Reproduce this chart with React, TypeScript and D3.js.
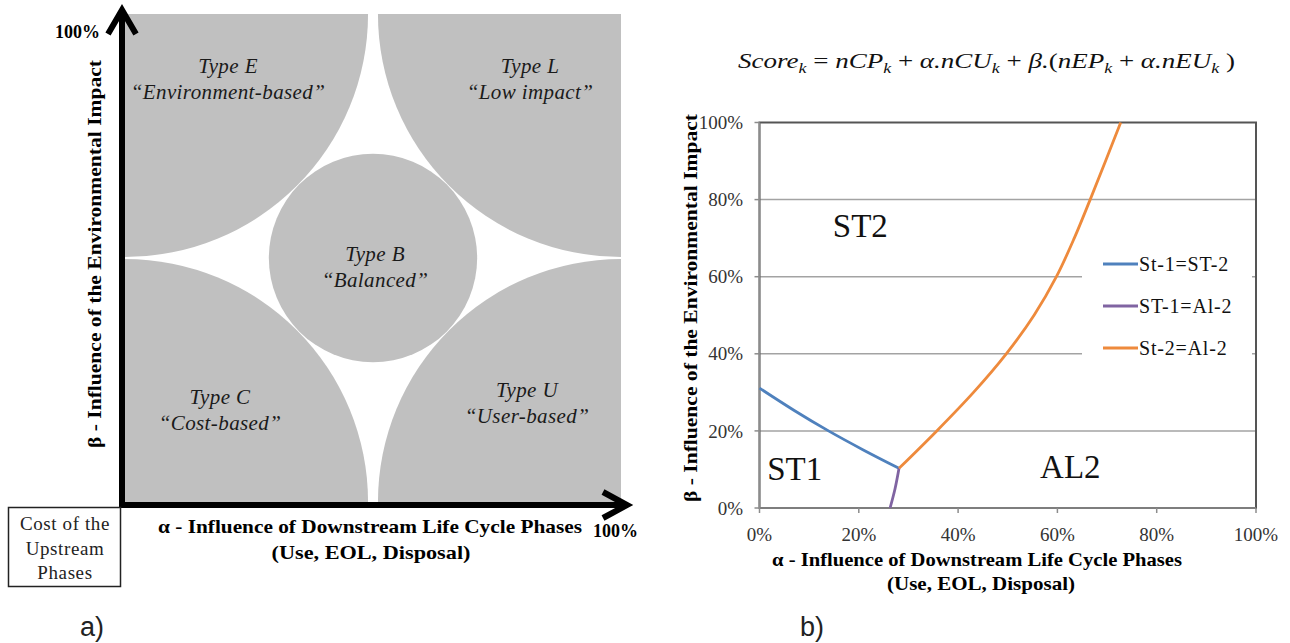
import * as d3 from "d3";
import * as React from "react";

// ---- panel a) archetypes on the (alpha, beta) square ----
const typeNames = ["Type E", "Type L", "Type B", "Type C", "Type U"];
const typeDescriptions = ["“Environment-based”", "“Low impact”", "“Balanced”", "“Cost-based”", "“User-based”"];
// corner (or centre) each region grows from, in alpha / beta units
const typeAlpha = [0, 1, 0.5, 0, 1];
const typeBeta = [1, 1, 0.5, 0, 0];
const cornerRadius = 0.49;
const centerRadius = 0.21;

// ---- panel b) frontier lines ----
const tickValues = [0, 0.2, 0.4, 0.6, 0.8, 1];
const seriesNames = ["St-1=ST-2", "ST-1=Al-2", "St-2=Al-2"];
const st1st2Alpha = [0, 0.07, 0.139, 0.21, 0.281];
const st1st2Beta = [0.311, 0.253, 0.2, 0.15, 0.103];
const st1al2Alpha = [0.263, 0.273, 0.281];
const st1al2Beta = [0, 0.05, 0.103];
const st2al2Alpha = [0.281, 0.357, 0.431, 0.497, 0.553, 0.598, 0.634, 0.666, 0.697, 0.7275];
const st2al2Beta = [0.103, 0.2, 0.3, 0.4, 0.5, 0.6, 0.7, 0.8, 0.9, 1];
const regionNames = ["ST2", "ST1", "AL2"];

const serif = "'Liberation Serif', 'Times New Roman', serif";
const seriesColors = ["#4f81bd", "#8064a2", "#ee8a3c"];

// label placement (layout, not data)
const typeLabelPos = [
  [228, 73], [530, 73], [375, 261], [220, 404], [527, 397],
];
const regionLabelPos = [
  [0.203, 0.703], [0.071, 0.073], [0.626, 0.078],
];

function PanelA() {
  const x = d3.scaleLinear().domain([0, 1]).range([125, 621]);
  const y = d3.scaleLinear().domain([0, 1]).range([502, 14]);
  const side = x(1) - x(0);

  const shapes = typeNames.map((name, i) => {
    const cx = x(typeAlpha[i]);
    const cy = y(typeBeta[i]);
    if (typeAlpha[i] === 0.5) {
      return <circle key={name} cx={cx} cy={cy} r={centerRadius * side} fill="#c0c0c0" />;
    }
    const sx = typeAlpha[i] === 0 ? 1 : -1;
    const sy = typeBeta[i] === 1 ? 1 : -1;
    const a0 = sx > 0 ? 0 : Math.PI;
    let diff = (sy > 0 ? Math.PI / 2 : -Math.PI / 2) - a0;
    if (diff > Math.PI) diff -= 2 * Math.PI;
    if (diff < -Math.PI) diff += 2 * Math.PI;
    const p = d3.path();
    p.moveTo(cx, cy);
    p.arc(cx, cy, cornerRadius * side, a0, a0 + diff, diff < 0);
    p.closePath();
    return <path key={name} d={p.toString()} fill="#c0c0c0" />;
  });

  const ax = 122, ay = 505;
  return (
    <g>
      {shapes}
      {typeNames.map((name, i) => (
        <text key={name} x={typeLabelPos[i][0]} y={typeLabelPos[i][1]} textAnchor="middle"
          fontFamily={serif} fontStyle="italic" fontSize={21} letterSpacing={0.4} fill="#1a1a1a">
          <tspan x={typeLabelPos[i][0]}>{name}</tspan>
          <tspan x={typeLabelPos[i][0]} dy={26}>{typeDescriptions[i]}</tspan>
        </text>
      ))}
      {/* axes with arrows */}
      <g stroke="#000" strokeWidth={6} fill="none" strokeLinecap="butt" strokeLinejoin="miter">
        <line x1={ax} y1={ay + 3} x2={ax} y2={11} />
        <polyline points={`${ax - 14},34 ${ax},10 ${ax + 14},34`} />
        <line x1={ax - 3} y1={ay} x2={626} y2={ay} />
        <polyline points={`603,492 627,${ay} 603,518`} />
      </g>
      <text x={100} y={38} textAnchor="end" fontFamily={serif} fontWeight="bold" fontSize={18}>100%</text>
      <text x={593} y={537} fontFamily={serif} fontWeight="bold" fontSize={18}>100%</text>
      <text transform={`translate(101,254) rotate(-90)`} textAnchor="middle" fontFamily={serif}
        fontWeight="bold" fontSize={19} textLength={388} lengthAdjust="spacingAndGlyphs">
        β - Influence of the Environmental Impact
      </text>
      <text x={370} y={533} textAnchor="middle" fontFamily={serif} fontWeight="bold" fontSize={19}
        textLength={424} lengthAdjust="spacingAndGlyphs">
        α - Influence of Downstream Life Cycle Phases
      </text>
      <text x={371} y={559} textAnchor="middle" fontFamily={serif} fontWeight="bold" fontSize={19}
        textLength={199} lengthAdjust="spacingAndGlyphs">
        (Use, EOL, Disposal)
      </text>
      <rect x={8.5} y={507.5} width={112} height={79} fill="#fff" stroke="#222" strokeWidth={1.5} />
      {["Cost of the", "Upstream", "Phases"].map((t, i) => (
        <text key={t} x={65} y={530 + i * 24.5} textAnchor="middle" fontFamily={serif} fontSize={19}
          letterSpacing={0.6} fill="#222">{t}</text>
      ))}
      <text x={80} y={636} fontFamily="'Liberation Sans', Arial, sans-serif" fontSize={27} fill="#222">a)</text>
    </g>
  );
}

function PanelB() {
  const x = d3.scaleLinear().domain([0, 1]).range([759.5, 1256]);
  const y = d3.scaleLinear().domain([0, 1]).range([508, 122.5]);
  const fmt = d3.format(".0%");
  const lineX = d3.line<[number, number]>()
    .x(d => x(d[0])).y(d => y(d[1]))
    .curve(d3.curveMonotoneX);
  const lineSmooth = d3.line<[number, number]>()
    .x(d => x(d[0])).y(d => y(d[1]))
    .curve(d3.curveCatmullRom.alpha(0.5));
  const series = [
    d3.zip(st1st2Alpha, st1st2Beta),
    d3.zip(st1al2Alpha, st1al2Beta),
    d3.zip(st2al2Alpha, st2al2Beta),
  ] as [number, number][][];
  const gens = [lineX, lineSmooth, lineSmooth];

  return (
    <g>
      {tickValues.slice(1, -1).map(t => (
        <line key={t} x1={x(0)} x2={x(1)} y1={y(t)} y2={y(t)} stroke="#a3a3a3" strokeWidth={1.5} />
      ))}
      <rect x={x(0)} y={y(1)} width={x(1) - x(0)} height={y(0) - y(1)} fill="none" stroke="#555"
        strokeWidth={2} />
      <line x1={x(0)} x2={x(0)} y1={y(0)} y2={y(1)} stroke="#8c8c8c" strokeWidth={1.5} />
      <line x1={x(0)} x2={x(1)} y1={y(0)} y2={y(0)} stroke="#8c8c8c" strokeWidth={1.5} />
      {tickValues.map(t => (
        <g key={t}>
          <line x1={x(0) - 5} x2={x(0)} y1={y(t)} y2={y(t)} stroke="#8c8c8c" strokeWidth={1.5} />
          <line x1={x(t)} x2={x(t)} y1={y(0)} y2={y(0) + 5} stroke="#8c8c8c" strokeWidth={1.5} />
          <text x={743} y={y(t)} dy="0.35em" textAnchor="end" fontFamily={serif} fontSize={19}
            fill="#333">{fmt(t)}</text>
          <text x={x(t)} y={541} textAnchor="middle" fontFamily={serif} fontSize={19}
            fill="#333">{fmt(t)}</text>
        </g>
      ))}
      {/* legend */}
      <rect x={1082} y={242} width={170} height={130} fill="#fff" />
      {seriesNames.map((s, i) => (
        <g key={s} transform={`translate(0,${264 + i * 42})`}>
          <line x1={1103} x2={1138} y1={0} y2={0} stroke={seriesColors[i]} strokeWidth={3} />
          <text x={1139} y={0} dy="0.35em" fontFamily={serif} fontSize={20} letterSpacing={0.8}
            fill="#111">{s}</text>
        </g>
      ))}
      {series.map((pts, i) => (
        <path key={seriesNames[i]} d={gens[i](pts) ?? ""} fill="none" stroke={seriesColors[i]}
          strokeWidth={2.8} />
      ))}
      {regionNames.map((r, i) => (
        <text key={r} x={x(regionLabelPos[i][0])} y={y(regionLabelPos[i][1])} textAnchor="middle"
          fontFamily={serif} fontSize={33} fill="#111">{r}</text>
      ))}
      <text transform={`translate(697,308) rotate(-90)`} textAnchor="middle" fontFamily={serif}
        fontWeight="bold" fontSize={19} textLength={388} lengthAdjust="spacingAndGlyphs">
        β - Influence of the Environmental Impact
      </text>
      <text x={977} y={566} textAnchor="middle" fontFamily={serif} fontWeight="bold" fontSize={19}
        textLength={410} lengthAdjust="spacingAndGlyphs">
        α - Influence of Downstream Life Cycle Phases
      </text>
      <text x={981} y={590} textAnchor="middle" fontFamily={serif} fontWeight="bold" fontSize={19}
        textLength={188} lengthAdjust="spacingAndGlyphs">
        (Use, EOL, Disposal)
      </text>
      <text x={738} y={68} fontFamily={serif} fontStyle="italic" fontSize={21} fill="#111"
        textLength={497} lengthAdjust="spacingAndGlyphs">
        Score<tspan fontSize={14} dy={5}>k</tspan>
        <tspan dy={-5} fontStyle="normal"> = </tspan>nCP<tspan fontSize={14} dy={5}>k</tspan>
        <tspan dy={-5} fontStyle="normal"> + </tspan>α.nCU<tspan fontSize={14} dy={5}>k</tspan>
        <tspan dy={-5} fontStyle="normal"> + </tspan>β.<tspan fontStyle="normal">(</tspan>nEP
        <tspan fontSize={14} dy={5}>k</tspan>
        <tspan dy={-5} fontStyle="normal"> + </tspan>α.nEU<tspan fontSize={14} dy={5}>k</tspan>
        <tspan dy={-5} fontStyle="normal"> )</tspan>
      </text>
      <text x={800} y={636} fontFamily="'Liberation Sans', Arial, sans-serif" fontSize={27} fill="#222">b)</text>
    </g>
  );
}

export default function App() {
  return (
    <svg width={1290} height={643} viewBox="0 0 1290 643"
      style={{ position: "absolute", left: 0, top: 0, background: "#fff" }}>
      <PanelA />
      <PanelB />
    </svg>
  );
}
